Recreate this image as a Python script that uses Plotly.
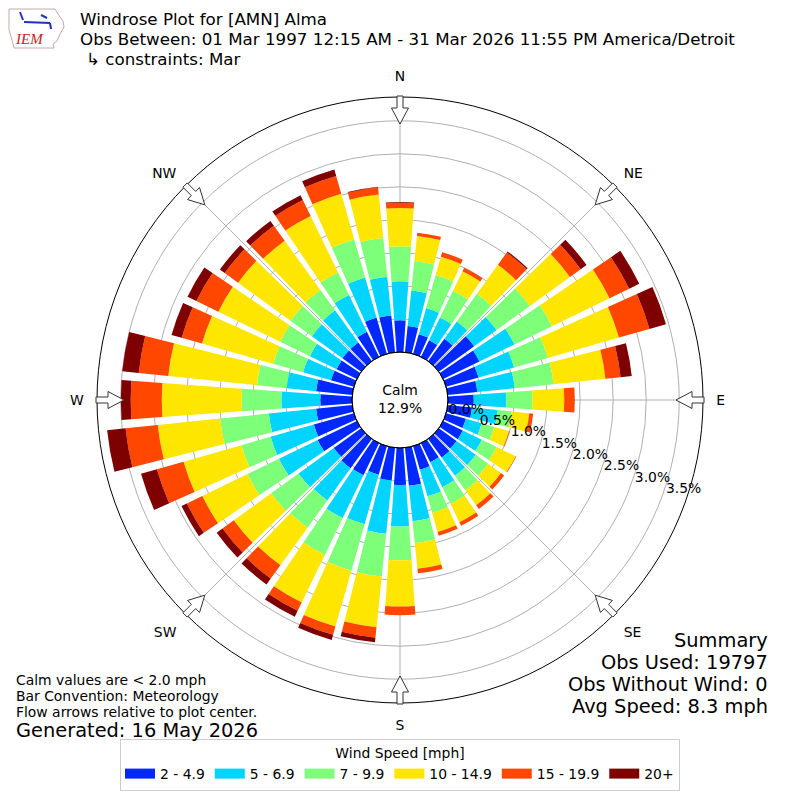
import numpy as np
import plotly.graph_objects as go

# direction bins (deg, meteorological: wind coming from)
directions = list(range(0, 360, 10))
speed_bins = ["2 - 4.9", "5 - 6.9", "7 - 9.9", "10 - 14.9", "15 - 19.9", "20+"]
colors = ["#0028ff", "#00d4ff", "#7dff7a", "#ffe600", "#ff4700", "#7f0000"]

# percent of observations per direction, one list per speed bin
pct_2_5 = [0.48, 0.40, 0.31, 0.28, 0.42, 0.66, 0.61, 0.51, 0.45, 0.39,
           0.37, 0.31, 0.33, 0.33, 0.35, 0.32, 0.37, 0.58, 0.56, 0.50,
           0.45, 0.54, 0.55, 0.51, 0.66, 0.63, 0.55, 0.48, 0.55, 0.36,
           0.34, 0.35, 0.35, 0.42, 0.57, 0.56]
pct_5_7 = [0.59, 0.54, 0.41, 0.38, 0.32, 0.42, 0.59, 0.56, 0.57, 0.49,
           0.39, 0.25, 0.32, 0.36, 0.34, 0.42, 0.42, 0.54, 0.63, 0.81,
           0.78, 0.72, 0.60, 0.66, 0.65, 0.68, 0.72, 0.59, 0.45, 0.44,
           0.45, 0.57, 0.60, 0.62, 0.63, 0.59]
pct_7_10 = [0.53, 0.45, 0.52, 0.45, 0.52, 0.62, 0.63, 0.53, 0.59, 0.40,
            0.21, 0.20, 0.25, 0.23, 0.27, 0.28, 0.26, 0.33, 0.51, 0.65,
            0.73, 0.62, 0.51, 0.51, 0.53, 0.46, 0.74, 0.60, 0.45, 0.47,
            0.50, 0.40, 0.38, 0.38, 0.60, 0.59]
pct_10_15 = [0.58, 0.38, 0.29, 0.33, 0.54, 0.75, 0.97, 1.12, 0.79, 0.48,
             0.27, 0.23, 0.32, 0.24, 0.28, 0.31, 0.30, 0.39, 0.70, 0.77,
             0.88, 0.80, 0.70, 0.70, 0.76, 0.91, 0.95, 1.21, 1.35, 1.12,
             1.04, 0.98, 0.92, 0.95, 0.72, 0.66]
pct_15_20 = [0.08, 0.05, 0.07, 0.06, 0.23, 0.20, 0.33, 0.48, 0.23, 0.16,
             0.06, 0.01, 0.01, 0.06, 0.07, 0.06, 0.06, 0.07, 0.13, 0.16,
             0.13, 0.14, 0.25, 0.21, 0.26, 0.42, 0.49, 0.47, 0.45, 0.32,
             0.37, 0.25, 0.28, 0.27, 0.28, 0.11]
pct_20_up = [0.01, 0.00, 0.00, 0.00, 0.02, 0.11, 0.17, 0.26, 0.17, 0.00,
             0.00, 0.00, 0.00, 0.00, 0.00, 0.00, 0.00, 0.00, 0.00, 0.07,
             0.08, 0.10, 0.11, 0.11, 0.09, 0.25, 0.28, 0.15, 0.25, 0.16,
             0.15, 0.09, 0.09, 0.08, 0.10, 0.01]

series = [pct_2_5, pct_5_7, pct_7_10, pct_10_15, pct_15_20, pct_20_up]

r_ticks = [0.0, 0.5, 1.0, 1.5, 2.0, 2.5, 3.0, 3.5]
compass = ["N", "NE", "E", "SE", "S", "SW", "W", "NW"]
compass_deg = [0, 45, 90, 135, 180, 225, 270, 315]

W = H = 800
OFF = 8          # page body margin of the browser
CX, CY = 400, 400
R_OUT = 303
R_HOLE = 48
RLABEL_ANGLE = -20


def px(x, y):
    # screen pixel -> paper (figure margins are zero)
    return (x - OFF) / W, 1 - (y - OFF) / H


fig = go.Figure()

for name, vals, col in zip(speed_bins, series, colors):
    fig.add_trace(go.Barpolar(
        r=vals, theta=directions, width=8.2, name=name,
        marker=dict(color=col, line=dict(width=0)),
        legendgroup=name, showlegend=False,
    ))
    # legend swatch as a thick line
    fig.add_trace(go.Scatterpolar(
        r=[None], theta=[None], mode="lines", name=name,
        line=dict(color=col, width=10), legendgroup=name,
    ))

# flow arrows on the rim, pointing at the center
shapes = []
arrow = [(304, -3), (304, 3), (292, 3), (292, 8.5), (276, 0),
         (292, -8.5), (292, -3)]
for b in compass_deg:
    t = np.radians(b)
    ux, uy = np.sin(t), -np.cos(t)
    vx, vy = np.cos(t), np.sin(t)
    pts = []
    for rp, off in arrow:
        sx = CX + rp * ux + off * vx
        sy = CY + rp * uy + off * vy
        pts.append(px(sx, sy))
    path = "M " + " L ".join(f"{x:.5f},{y:.5f}" for x, y in pts) + " Z"
    shapes.append(dict(type="path", xref="paper", yref="paper", path=path,
                       fillcolor="white", line=dict(color="#333333", width=1)))

# hole outline
x0, y0 = px(CX - R_HOLE, CY + R_HOLE)
x1, y1 = px(CX + R_HOLE, CY - R_HOLE)
shapes.append(dict(type="circle", xref="paper", yref="paper", x0=x0, y0=y0,
                   x1=x1, y1=y1, line=dict(color="black", width=1),
                   fillcolor="rgba(0,0,0,0)"))

# IEM logo (rough)
logo = [(9, 9), (55, 9), (58, 14), (63, 21), (64, 27), (60, 34), (57, 41),
        (53, 44), (54, 48), (14, 48), (12, 40), (9, 30), (9, 18)]
lp = [px(x, y) for x, y in logo]
shapes.append(dict(type="path", xref="paper", yref="paper",
                   path="M " + " L ".join(f"{x:.5f},{y:.5f}" for x, y in lp) + " Z",
                   line=dict(color="#c8a8a8", width=1)))
for (ax0, ay0), (ax1, ay1) in [((24, 22), (50, 23)), ((20, 12), (23, 20)),
                               ((41, 15), (47, 18)), ((50, 23), (51, 29))]:
    a, b = px(ax0, ay0)
    c, d = px(ax1, ay1)
    shapes.append(dict(type="line", xref="paper", yref="paper",
                       x0=a, y0=b, x1=c, y1=d,
                       line=dict(color="#2030c0", width=2)))

font = "DejaVu Sans"
ann = []


def text(x, y, s, size, anchor="left", color="black", fam=font):
    if anchor == "left":
        x -= 1
    elif anchor == "right":
        x += 1
    ax, ay = px(x, y)
    ann.append(dict(x=ax, y=ay, xref="paper", yref="paper", text=s,
                    showarrow=False, xanchor=anchor, yanchor="middle",
                    borderpad=0,
                    align=anchor if anchor != "center" else "center",
                    font=dict(family=fam, size=size, color=color)))


text(80, 19, "Windrose Plot for [AMN] Alma", 16.7)
text(80, 39, "Obs Between: 01 Mar 1997 12:15 AM - 31 Mar 2026 11:55 PM America/Detroit", 16.7)
text(86, 59, "↳ constraints: Mar", 16.7)
text(29, 39, "<i>IEM</i>", 15, anchor="center", color="#d02020", fam="Liberation Serif")

text(400, 399, "Calm<br>12.9%", 13.9, anchor="center")

text(16, 680, "Calm values are < 2.0 mph", 13.9)
text(16, 696, "Bar Convention: Meteorology", 13.9)
text(16, 712, "Flow arrows relative to plot center.", 13.9)
text(16, 730, "Generated: 16 May 2026", 19.4)

text(768, 640, "Summary", 19.4, anchor="right")
text(768, 662, "Obs Used: 19797", 19.4, anchor="right")
text(768, 684, "Obs Without Wind: 0", 19.4, anchor="right")
text(768, 706, "Avg Speed: 8.3 mph", 19.4, anchor="right")

dx0, dy0 = px(CX - R_OUT, CY + R_OUT)
dx1, dy1 = px(CX + R_OUT, CY - R_OUT)

fig.update_layout(
    width=W, height=H,
    margin=dict(l=0, r=0, t=0, b=0),
    paper_bgcolor="white",
    font=dict(family=font, size=13.9, color="black"),
    polar=dict(
        domain=dict(x=[dx0, dx1], y=[dy0, dy1]),
        hole=R_HOLE / R_OUT,
        bgcolor="white",
        barmode="stack",
        angularaxis=dict(
            rotation=90, direction="clockwise",
            tickmode="array", tickvals=compass_deg, ticktext=compass,
            ticks="outside", ticklen=10, tickcolor="rgba(0,0,0,0)",
            showline=True, linecolor="black", linewidth=1,
            gridcolor="#b0b0b0", gridwidth=1, layer="above traces",
            tickfont=dict(size=13.9),
        ),
        radialaxis=dict(
            range=[0, 3.86], angle=RLABEL_ANGLE, tickangle=RLABEL_ANGLE,
            side="counterclockwise",
            tickmode="array", tickvals=r_ticks,
            ticktext=[f"{v:.1f}%" for v in r_ticks],
            showline=False, ticks="", layer="above traces",
            gridcolor="#b0b0b0", gridwidth=1,
            tickfont=dict(size=13.9),
        ),
    ),
    legend=dict(
        orientation="h", x=px(400, 0)[0], xanchor="center",
        y=px(0, 739)[1], yanchor="top",
        bordercolor="#cccccc", borderwidth=1,
        title=dict(text="Wind Speed [mph]", side="top center", font=dict(size=13.9)),
        font=dict(size=13.9),
        itemwidth=30,
    ),
    shapes=shapes,
    annotations=ann,
)

fig.write_html("out.html")
